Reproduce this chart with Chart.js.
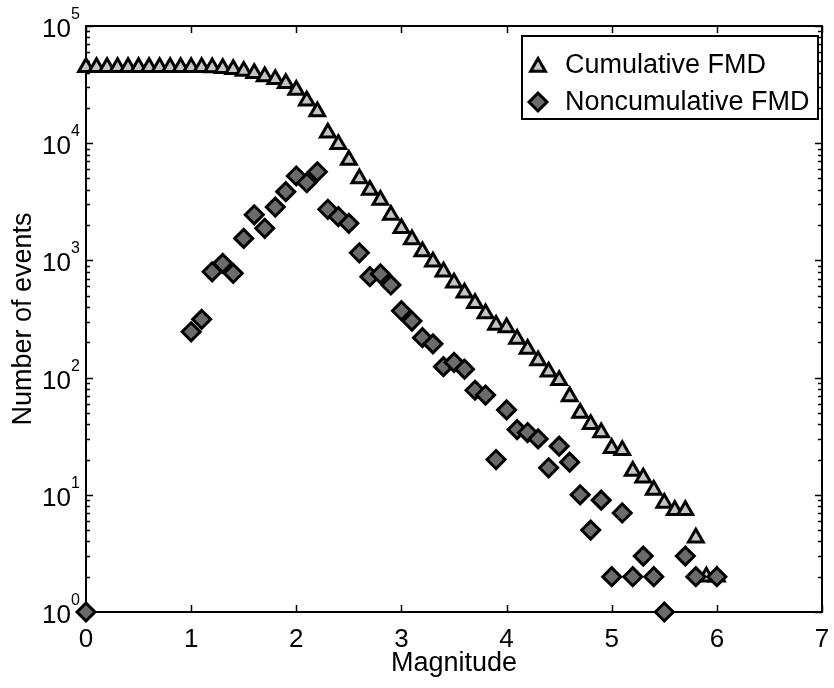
<!DOCTYPE html>
<html>
<head>
<meta charset="utf-8">
<script src="https://cdn.jsdelivr.net/npm/chart.js@4.4.0/dist/chart.umd.min.js"></script>
<style>
  html, body { margin: 0; padding: 0; background: #fff; }
  #wrap { width: 834px; height: 688px; }
</style>
</head>
<body>
<div id="wrap"><canvas id="fmd" width="834" height="688"></canvas></div>
<script>
// ── Data ──
const magnitudes = [
  0.0, 0.1, 0.2, 0.3, 0.4, 0.5, 0.6, 0.7, 0.8, 0.9,
  1.0, 1.1, 1.2, 1.3, 1.4, 1.5, 1.6, 1.7, 1.8, 1.9,
  2.0, 2.1, 2.2, 2.3, 2.4, 2.5, 2.6, 2.7, 2.8, 2.9,
  3.0, 3.1, 3.2, 3.3, 3.4, 3.5, 3.6, 3.7, 3.8, 3.9,
  4.0, 4.1, 4.2, 4.3, 4.4, 4.5, 4.6, 4.7, 4.8, 4.9,
  5.0, 5.1, 5.2, 5.3, 5.4, 5.5, 5.6, 5.7, 5.8, 5.9,
  6.0
];
const cumulative = [
  44400, 44400, 44400, 44400, 44400, 44400, 44400, 44400, 44400, 44400,
  44400, 44400, 44300, 43500, 42700, 41300, 39500, 37000, 35100, 32400,
  28400, 23000, 18600, 12300, 9800, 7200, 5000, 3990, 3270, 2440,
  1880, 1510, 1190, 975, 800, 646, 530, 430, 353, 281,
  268, 214, 175, 140, 112, 95, 69, 50, 40, 34,
  25, 24, 16, 14, 11, 8.5, 7.4, 7.4, 4.3, 2,
  2
];
const noncumulative = [
  1, null, null, null, null, null, null, null, null, null,
  246, 314, 800, 944, 776, 1540, 2450, 1880, 2850, 3860,
  5250, 4600, 5700, 2730, 2360, 2070, 1160, 726, 766, 617,
  372, 304, 219, 194, 124, 135, 118, 78, 71, 20,
  53, 36, 34, 30, 17, 26, 19, 10, 5, 9,
  2, 7, 2, 3, 2, 1, null, 3, 2, null,
  2
];
const xTicks = [0, 1, 2, 3, 4, 5, 6, 7];
const yDecades = [0, 1, 2, 3, 4, 5];
const seriesLabels = ['Cumulative FMD', 'Noncumulative FMD'];

// ── Look ──
const FONT = '"Liberation Sans", Arial, Helvetica, sans-serif';
const TRI_FILL = '#c4c4c4';
const DIA_FILL = '#6b6b6b';

function toPoints(values) {
  return magnitudes.map((m, i) => ({ x: m, y: values[i] }));
}

// ── Axes frame, ticks, labels (MATLAB style) ──
const axesFrame = {
  id: 'axesFrame',
  beforeDatasetsDraw(chart) {
    const { ctx, chartArea: a, scales: { x, y } } = chart;
    ctx.save();
    ctx.strokeStyle = '#000';
    ctx.lineWidth = 2;
    ctx.strokeRect(a.left, a.top, a.right - a.left, a.bottom - a.top);

    ctx.lineWidth = 1.5;
    ctx.beginPath();
    xTicks.forEach(v => {
      const px = Math.round(x.getPixelForValue(v)) + 0.5;
      ctx.moveTo(px, a.bottom); ctx.lineTo(px, a.bottom - 7);
      ctx.moveTo(px, a.top); ctx.lineTo(px, a.top + 7);
    });
    yDecades.forEach(k => {
      const py = Math.round(y.getPixelForValue(Math.pow(10, k))) + 0.5;
      ctx.moveTo(a.left, py); ctx.lineTo(a.left + 7, py);
      ctx.moveTo(a.right, py); ctx.lineTo(a.right - 7, py);
      if (k < 5) {
        for (let j = 2; j <= 9; j++) {
          const pm = Math.round(y.getPixelForValue(j * Math.pow(10, k))) + 0.5;
          ctx.moveTo(a.left, pm); ctx.lineTo(a.left + 4, pm);
          ctx.moveTo(a.right, pm); ctx.lineTo(a.right - 4, pm);
        }
      }
    });
    ctx.stroke();
    ctx.restore();
  },
  afterDraw(chart) {
    const { ctx, chartArea: a, scales: { x, y } } = chart;
    ctx.save();
    ctx.fillStyle = '#000';

    // x tick labels
    ctx.font = '26px ' + FONT;
    ctx.textAlign = 'center';
    ctx.textBaseline = 'alphabetic';
    xTicks.forEach(v => ctx.fillText(String(v), x.getPixelForValue(v), a.bottom + 35));

    // y tick labels: 10 with superscript exponent
    yDecades.forEach(k => {
      const py = y.getPixelForValue(Math.pow(10, k));
      ctx.font = '26px ' + FONT;
      ctx.textAlign = 'right';
      ctx.fillText('10', 71, py + 11);
      ctx.font = '16px ' + FONT;
      ctx.textAlign = 'left';
      ctx.fillText(String(k), 71, py - 7);
    });

    // axis titles
    ctx.font = '27px ' + FONT;
    ctx.textAlign = 'center';
    ctx.fillText('Magnitude', (a.left + a.right) / 2, 671);
    ctx.save();
    ctx.translate(31, (a.top + a.bottom) / 2);
    ctx.rotate(-Math.PI / 2);
    ctx.fillText('Number of events', 0, 0);
    ctx.restore();
    ctx.restore();
  }
};

// ── Legend box ──
const legendBox = {
  id: 'legendBox',
  afterDraw(chart) {
    const { ctx } = chart;
    const box = { left: 522, top: 36, right: 818, bottom: 119 };
    ctx.save();
    ctx.fillStyle = '#fff';
    ctx.fillRect(box.left, box.top, box.right - box.left, box.bottom - box.top);
    ctx.strokeStyle = '#000';
    ctx.lineWidth = 2;
    ctx.strokeRect(box.left, box.top, box.right - box.left, box.bottom - box.top);

    const rows = [65, 102];
    chart.data.datasets.forEach((ds, i) => {
      ctx.fillStyle = ds.backgroundColor;
      ctx.strokeStyle = ds.borderColor;
      ctx.lineWidth = ds.borderWidth;
      Chart.helpers.drawPoint(ctx, {
        pointStyle: ds.pointStyle, radius: ds.pointRadius, rotation: 0, borderWidth: ds.borderWidth
      }, 538, rows[i] + (ds.pointStyle === 'triangle' ? 2 : 0));
      ctx.fillStyle = '#000';
      ctx.font = '27px ' + FONT;
      ctx.textAlign = 'left';
      ctx.textBaseline = 'middle';
      ctx.fillText(seriesLabels[i], 565, rows[i] + 1);
    });
    ctx.restore();
  }
};

// ── Chart ──
new Chart(document.getElementById('fmd'), {
  type: 'scatter',
  data: {
    datasets: [
      {
        label: seriesLabels[0],
        data: toPoints(cumulative),
        pointStyle: 'triangle',
        pointRadius: 8.5,
        backgroundColor: TRI_FILL,
        borderColor: '#000',
        borderWidth: 3,
        clip: false,
        order: 2
      },
      {
        label: seriesLabels[1],
        data: toPoints(noncumulative),
        pointStyle: 'rectRot',
        pointRadius: 9,
        backgroundColor: DIA_FILL,
        borderColor: '#000',
        borderWidth: 3,
        clip: false,
        order: 1
      }
    ]
  },
  options: {
    responsive: false,
    animation: false,
    devicePixelRatio: 1,
    layout: { padding: { left: 86, right: 7, top: 26, bottom: 76 } },
    plugins: { legend: { display: false }, tooltip: { enabled: false } },
    scales: {
      x: { type: 'linear', min: 0, max: 7, display: false },
      y: { type: 'logarithmic', min: 1, max: 100000, display: false }
    }
  },
  plugins: [axesFrame, legendBox]
});
</script>
</body>
</html>
